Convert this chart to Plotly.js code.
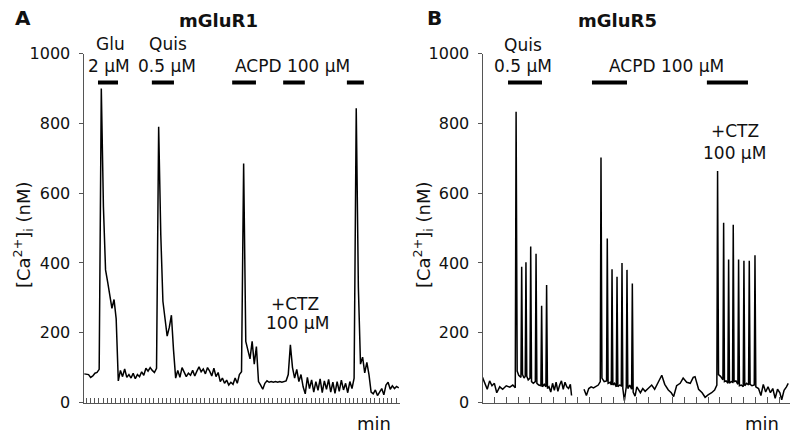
<!DOCTYPE html>
<html><head><meta charset="utf-8">
<script src="https://cdn.plot.ly/plotly-3.0.1.min.js"></script>
<style>html,body{margin:0;padding:0;background:#fff}#chart{width:800px;height:433px}</style>
</head><body><div id="chart"></div>
<script>
// ---- Panel A (mGluR1): sampled every 0.5 min starting at -0.4 min ----
const startA = -0.4;
const stepA = 0.5;
const caA = [82,81,80,72,76,84,86,95,900,560,380,345,300,270,295,240,62,92,74,96,72,80,70,84,68,80,74,88,78,98,90,100,92,86,98,
  790,480,290,240,190,215,250,150,70,92,72,100,86,74,84,78,92,76,90,102,88,96,82,100,90,76,98,74,86,60,70,55,64,50,58,52,70,55,80,88,
  685,175,150,125,175,110,160,60,50,38,55,62,58,60,58,60,58,60,58,60,62,80,165,100,70,95,60,80,45,25,72,40,65,30,60,35,68,28,62,38,66,30,58,26,60,32,64,36,55,28,60,40,70,
  843,330,110,130,85,115,80,30,25,36,20,30,40,22,50,58,38,48,40,46,42];

// ---- Panel B (mGluR5) ----
const timeB = [0.0,0.2,0.4,0.6,0.8,1.0,1.2,1.45,1.7,2.0,2.3,2.55,2.76,2.83,2.92,3.05,3.24,3.30,3.37,3.5,3.6,3.66,3.73,3.85,4.0,4.06,4.13,4.28,4.45,4.51,4.58,4.74,4.92,4.98,5.05,5.2,5.34,5.40,5.47,5.6,5.75,5.9,6.05,6.2,6.35,6.5,6.65,6.8,6.95,7.1,7.25,7.4,7.5,
  7.8,
  8.55,8.75,8.95,9.15,9.35,9.55,9.75,9.92,9.98,10.06,10.25,10.45,10.51,10.58,10.75,10.85,10.91,10.98,11.12,11.27,11.33,11.4,11.55,11.69,11.75,11.82,11.95,12.11,12.17,12.24,12.4,12.56,12.62,12.69,12.85,
  13.0,13.3,13.5,13.7,13.95,14.25,14.5,14.8,15.1,15.35,15.65,15.9,16.1,16.35,16.65,16.9,17.2,17.5,17.75,17.9,18.2,18.5,18.75,19.0,19.3,19.55,19.74,
  19.80,19.88,20.05,20.25,20.31,20.38,20.52,20.67,20.73,20.8,20.95,21.06,21.12,21.19,21.35,21.51,21.57,21.64,21.8,21.96,22.02,22.09,22.25,22.41,22.47,22.54,22.7,22.89,22.95,23.02,
  23.25,23.45,23.65,23.85,24.05,24.25,24.45,24.65,24.85,25.05,25.2,25.4,25.6,25.75];
const caB = [72,55,38,62,48,55,28,45,38,48,44,50,42,833,90,78,72,389,80,70,75,402,75,65,70,447,60,55,60,426,55,50,48,277,45,52,45,337,40,45,30,55,35,58,32,50,62,38,58,45,40,52,20,
  null,
  38,20,40,45,42,46,50,60,702,70,60,62,470,55,58,50,382,50,55,45,360,45,50,48,400,40,5,45,380,40,50,38,341,30,18,
  45,28,40,32,40,50,38,60,78,52,36,28,17,48,55,70,58,55,72,74,38,28,15,22,28,36,50,
  663,80,75,65,515,60,62,55,410,55,60,58,509,60,62,52,410,48,50,45,406,48,55,50,406,52,48,50,422,45,
  40,20,52,30,45,28,40,12,38,28,8,35,45,55];

// ---- drug application periods (min) ----
const stimA_start = [2.82, 15.5, 34.4, 46.4, 61.4];
const stimA_end   = [7.53, 20.7, 40.0, 51.5, 65.4];
const stimB_start = [2.15, 9.22, 18.9];
const stimB_end   = [5.01, 12.17, 22.36];
const stimLevel = 917;

const yTicks = [0, 200, 400, 600, 800, 1000];
const yTitle = '[Ca<sup>2+</sup>]<sub>i</sub> (nM)';

const timeA = caA.map((_, i) => startA + i * stepA);

const W = 800, H = 433;
const FONT = 'DejaVu Sans, Liberation Sans, Arial, sans-serif';
const AX = '#555';

function txt(text, x, y, size, bold, extra) {
  return Object.assign({
    text: bold ? '<b>' + text + '</b>' : text,
    xref: 'paper', yref: 'paper', x: x / W, y: 1 - y / H,
    xanchor: 'center', yanchor: 'middle', showarrow: false,
    font: {family: FONT, size: size, color: '#111'}
  }, extra || {});
}

const traces = [
  {x: timeA, y: caA, type: 'scatter', mode: 'lines', xaxis: 'x', yaxis: 'y',
   line: {color: '#000', width: 1.5}, hoverinfo: 'skip'},
  {x: timeB, y: caB, type: 'scatter', mode: 'lines', xaxis: 'x2', yaxis: 'y2',
   line: {color: '#000', width: 1.5}, connectgaps: false, hoverinfo: 'skip'}
];

const shapes = [];
stimA_start.forEach((s, i) => shapes.push({type: 'line', xref: 'x', yref: 'y', x0: s, x1: stimA_end[i], y0: stimLevel, y1: stimLevel, line: {color: '#000', width: 4}}));
stimB_start.forEach((s, i) => shapes.push({type: 'line', xref: 'x2', yref: 'y2', x0: s, x1: stimB_end[i], y0: stimLevel, y1: stimLevel, line: {color: '#000', width: 4}}));

const yDom = [30.5 / H, 379.5 / H];
function xax(dom, range, ticklen) {
  return {domain: dom, range: range, tickmode: 'linear', tick0: 0, dtick: 1,
    ticks: 'inside', ticklen: ticklen, tickcolor: AX, tickwidth: 1,
    showticklabels: false, showline: true, linecolor: AX, linewidth: 1.2,
    showgrid: false, zeroline: false, fixedrange: true};
}
function yax(anchor) {
  return {domain: yDom, range: [0, 1000], anchor: anchor, tickmode: 'array', tickvals: yTicks,
    ticks: 'outside', ticklen: 4, tickcolor: AX, tickwidth: 1, ticklabelstandoff: 5,
    tickfont: {family: FONT, size: 16, color: '#111'},
    showline: true, linecolor: AX, linewidth: 1, showgrid: false, zeroline: false, fixedrange: true};
}

const layout = {
  width: W, height: H, margin: {l: 0, r: 0, t: 0, b: 0},
  paper_bgcolor: '#fff', plot_bgcolor: '#fff', showlegend: false,
  font: {family: FONT, color: '#111'},
  xaxis: Object.assign(xax([83.5 / W, 400 / W], [-0.59, 73.9], 5), {anchor: 'y'}),
  yaxis: yax('x'),
  xaxis2: Object.assign(xax([482.5 / W, 790 / W], [0, 25.9], 6), {anchor: 'y2'}),
  yaxis2: yax('x2'),
  shapes: shapes,
  annotations: [
    txt('A', 23, 18, 20, true),
    txt('mGluR1', 218, 20, 18, true),
    txt('B', 434, 18, 20, true),
    txt('mGluR5', 617, 20, 18, true),
    txt('Glu', 110, 44, 17),
    txt('2 µM', 109, 66, 17),
    txt('Quis', 168, 44, 17),
    txt('0.5 µM', 167, 66, 17),
    txt('ACPD 100 µM', 292, 66, 17),
    txt('+CTZ', 295, 304, 17),
    txt('100 µM', 297, 323, 17),
    txt('Quis', 523, 45, 17),
    txt('0.5 µM', 523, 66, 17),
    txt('ACPD 100 µM', 666, 66, 17),
    txt('+CTZ', 735, 131, 17),
    txt('100 µM', 734, 153, 17),
    txt('min', 374, 423, 18),
    txt('min', 762, 423, 18),
    txt(yTitle, 23, 235, 18, false, {textangle: -90}),
    txt(yTitle, 423, 235, 18, false, {textangle: -90})
  ]
};

Plotly.newPlot('chart', traces, layout, {staticPlot: true, displayModeBar: false});
</script>
</body></html>
